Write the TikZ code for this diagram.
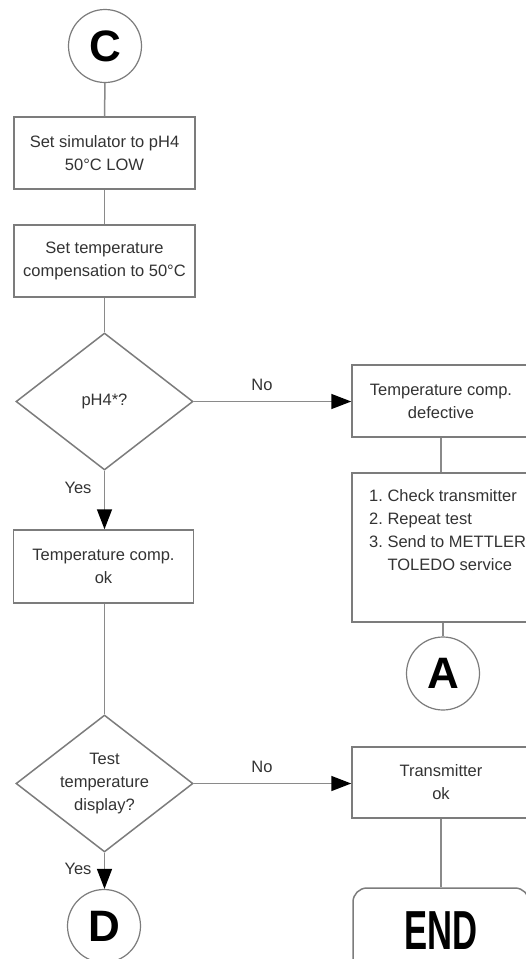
\documentclass[tikz,border=0pt]{standalone}
\usepackage{fontspec}
\usepackage{graphicx}
\setmainfont{Liberation Sans}
\usetikzlibrary{shapes.geometric,arrows.meta}
\definecolor{txt}{HTML}{333333}
\definecolor{edge}{HTML}{7C7C7C}
\definecolor{lineg}{HTML}{8A8A8A}
\begin{document}
\begin{tikzpicture}[x=1pt,y=-1pt,
  every node/.style={font=\fontsize{16.5}{23}\selectfont, text=txt},
  box/.style={draw=edge, line width=1.5pt, fill=white, rectangle, align=center, inner sep=0pt},
  dec/.style={draw=edge, line width=1.5pt, fill=white, diamond, aspect=1.292, minimum width=177pt, minimum height=137pt, inner sep=0pt, align=center},
  conn/.style={draw=edge, line width=1.2pt, fill=white, circle, minimum size=73pt, inner sep=0pt, text=black, font=\fontsize{44}{44}\bfseries\selectfont},
  ln/.style={draw=lineg, line width=1.5pt},
  arr/.style={ln, -{Triangle[length=20pt,width=15pt,color=black]}},
  lbl/.style={inner sep=0pt}
]
\useasboundingbox (0,0) rectangle (526,959);
\fill[white] (0,0) rectangle (526,959);

% left column
\node[conn] (C) at (105,46) {C};
\node[box, minimum width=181pt, minimum height=72pt] (b1) at (104.5,153) {Set simulator to pH4\\50°C LOW};
\node[box, minimum width=181pt, minimum height=72pt] (b2) at (104.5,261) {Set temperature\\compensation to 50°C};
\node[dec] (d1) at (104.5,401.5) {pH4*?};
\node[box, minimum width=180pt, minimum height=73pt] (b3) at (103.5,566.5) {Temperature comp.\\ok};
\node[dec] (d2) at (104.5,783.5) {Test\\temperature\\display?};
\node[conn] (D) at (104,926) {D};

% right column
\node[box, minimum width=178pt, minimum height=72pt] (rb1) at (441,401) {Temperature comp.\\defective};
\node[box, minimum width=178pt, minimum height=149pt] (rb2) at (441,547.5) {};
\node[anchor=north west, align=left, inner sep=0pt] (rb2t) at (369,489) {1.~Check transmitter\\2.~Repeat test\\3.~Send to METTLER\\\phantom{3.~}TOLEDO service};
\node[conn] (A) at (443,673.5) {A};
\node[box, minimum width=178pt, minimum height=71pt] (tb) at (441,782.5) {Transmitter\\ok};
\node[box, rounded corners=14pt, minimum width=176pt, minimum height=86pt, text=black, font=\fontsize{55}{55}\bfseries\selectfont] (E) at (441,931) {\scalebox{0.63}[1]{END}};

% connectors
\draw[ln] (C) -- (b1);
\draw[ln] (b1) -- (b2);
\draw[ln] (b2) -- (d1);
\draw[arr] (d1.south) -- (d1.south |- b3.north);
\draw[arr] (d1.east) -- (d1.east -| rb1.west);
\draw[ln] (rb1) -- (rb1 |- rb2.north);
\draw[ln] (rb2.south -| A) -- (A);
\draw[ln] (b3.south -| d2.north) -- (d2.north);
\draw[arr] (d2.east) -- (d2.east -| tb.west);
\draw[arr] (d2.south) -- (d2.south |- D.north);
\draw[ln] (tb) -- (tb |- E.north);

% labels
\node[lbl] (y1) at (78,488) {Yes};
\node[lbl] (n1) at (262,385) {No};
\node[lbl] (y2) at (78,869) {Yes};
\node[lbl] (n2) at (262,767) {No};
\end{tikzpicture}
\end{document}
